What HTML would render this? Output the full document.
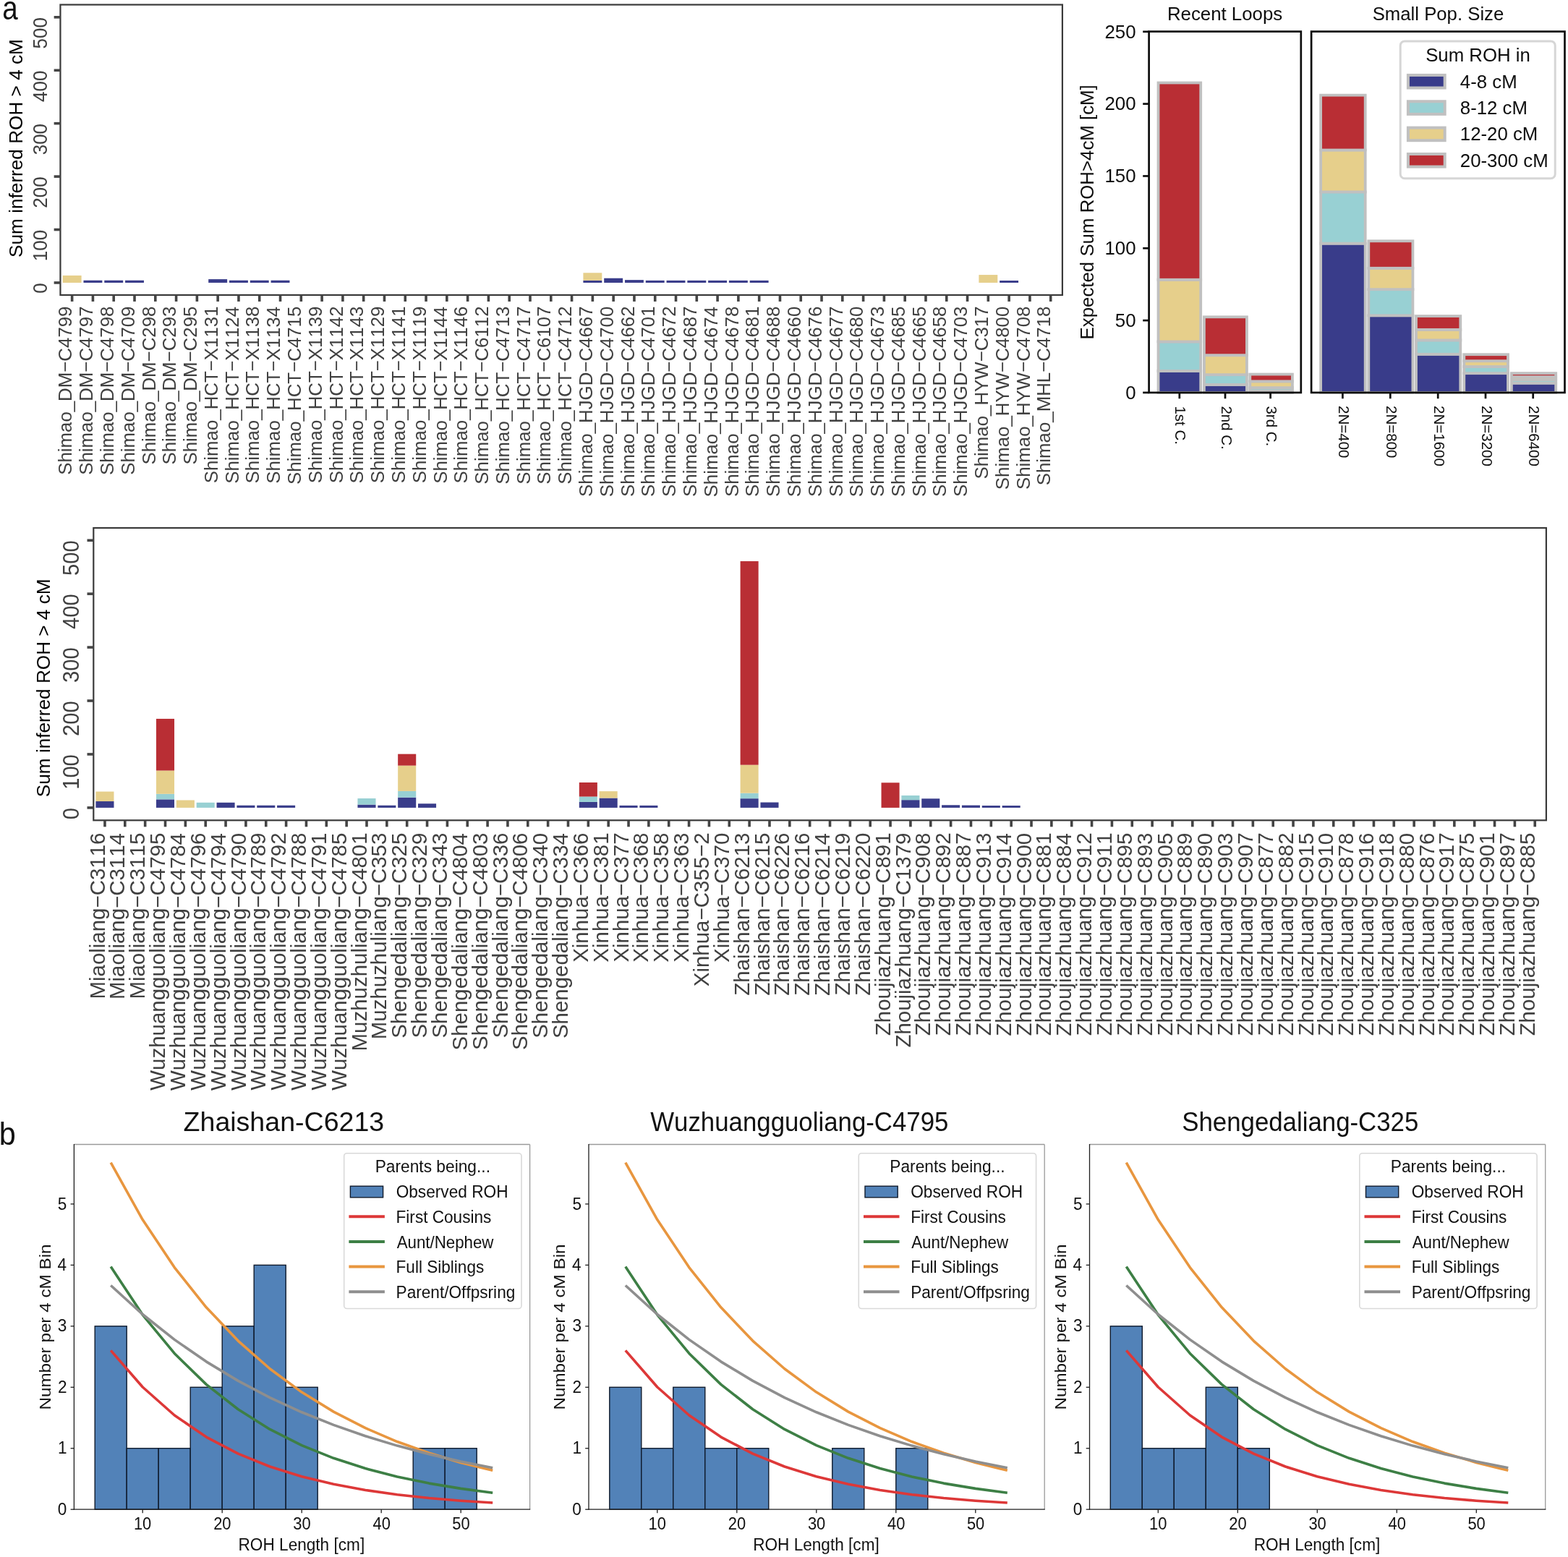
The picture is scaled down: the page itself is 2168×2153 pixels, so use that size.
<!DOCTYPE html><html><head><meta charset="utf-8"><title>ROH figure</title>
<style>html,body{margin:0;padding:0;background:#fff;}svg{display:block;}text{font-family:'Liberation Sans', Arial, Helvetica, sans-serif;font-kerning:none;}</style></head><body>
<svg xmlns="http://www.w3.org/2000/svg" width="2168" height="2153" viewBox="0 0 2168 2153">
<rect x="0" y="0" width="2168" height="2153" fill="#ffffff"/>
<text x="0" y="0" font-size="45.5" fill="#111" text-anchor="start" transform="translate(3.36 27.3) scale(0.8472 1.0000)">a</text>
<text x="0" y="0" font-size="45" fill="#111" text-anchor="start" transform="translate(-1.37 1583) scale(0.9191 1.0000)">b</text>
<rect x="86.69" y="380.96" width="25.91" height="9.99" fill="#e6cf8b"/>
<rect x="115.48" y="387.72" width="25.91" height="3.23" fill="#393c8a"/>
<rect x="144.27" y="387.72" width="25.91" height="3.23" fill="#393c8a"/>
<rect x="173.05" y="387.72" width="25.91" height="3.23" fill="#393c8a"/>
<rect x="288.21" y="386.1" width="25.91" height="4.85" fill="#393c8a"/>
<rect x="317" y="387.72" width="25.91" height="3.23" fill="#393c8a"/>
<rect x="345.79" y="387.72" width="25.91" height="3.23" fill="#393c8a"/>
<rect x="374.57" y="387.72" width="25.91" height="3.23" fill="#393c8a"/>
<rect x="806.4" y="387.87" width="25.91" height="3.08" fill="#393c8a"/>
<rect x="806.4" y="377.29" width="25.91" height="10.57" fill="#e6cf8b"/>
<rect x="835.19" y="384.71" width="25.91" height="6.24" fill="#393c8a"/>
<rect x="863.98" y="387.13" width="25.91" height="3.82" fill="#393c8a"/>
<rect x="892.77" y="387.87" width="25.91" height="3.08" fill="#393c8a"/>
<rect x="921.56" y="387.87" width="25.91" height="3.08" fill="#393c8a"/>
<rect x="950.35" y="387.87" width="25.91" height="3.08" fill="#393c8a"/>
<rect x="979.13" y="387.87" width="25.91" height="3.08" fill="#393c8a"/>
<rect x="1007.92" y="387.87" width="25.91" height="3.08" fill="#393c8a"/>
<rect x="1036.71" y="387.87" width="25.91" height="3.08" fill="#393c8a"/>
<rect x="1353.39" y="380.08" width="25.91" height="10.87" fill="#e6cf8b"/>
<rect x="1382.17" y="388.01" width="25.91" height="2.94" fill="#393c8a"/>
<rect x="83.45" y="6.5" width="1385.45" height="401.45" fill="none" stroke="#3a3a3a" stroke-width="2.2"/>
<line x1="74.65" y1="390.95" x2="83.45" y2="390.95" stroke="#444" stroke-width="3.6"/>
<text x="0" y="0" font-size="26" fill="#404040" text-anchor="start" transform="translate(65.4 405.69) rotate(-90) scale(1.0000 1.0400)">0</text>
<line x1="74.65" y1="317.52" x2="83.45" y2="317.52" stroke="#444" stroke-width="3.6"/>
<text x="0" y="0" font-size="26" fill="#404040" text-anchor="start" transform="translate(65.4 361.18) rotate(-90) scale(1.0000 1.0400)">100</text>
<line x1="74.65" y1="244.09" x2="83.45" y2="244.09" stroke="#444" stroke-width="3.6"/>
<text x="0" y="0" font-size="26" fill="#404040" text-anchor="start" transform="translate(65.4 287.75) rotate(-90) scale(1.0000 1.0400)">200</text>
<line x1="74.65" y1="170.66" x2="83.45" y2="170.66" stroke="#444" stroke-width="3.6"/>
<text x="0" y="0" font-size="26" fill="#404040" text-anchor="start" transform="translate(65.4 214.32) rotate(-90) scale(1.0000 1.0400)">300</text>
<line x1="74.65" y1="97.23" x2="83.45" y2="97.23" stroke="#444" stroke-width="3.6"/>
<text x="0" y="0" font-size="26" fill="#404040" text-anchor="start" transform="translate(65.4 140.89) rotate(-90) scale(1.0000 1.0400)">400</text>
<line x1="74.65" y1="23.8" x2="83.45" y2="23.8" stroke="#444" stroke-width="3.6"/>
<text x="0" y="0" font-size="26" fill="#404040" text-anchor="start" transform="translate(65.4 67.46) rotate(-90) scale(1.0000 1.0400)">500</text>
<line x1="99.64" y1="407.95" x2="99.64" y2="416.95" stroke="#444" stroke-width="3.6"/>
<text x="0" y="0" font-size="26" fill="#404040" text-anchor="start" transform="translate(99.34 656.82) rotate(-90) scale(0.9940 1.0000)">Shimao_DM−C4799</text>
<line x1="128.43" y1="407.95" x2="128.43" y2="416.95" stroke="#444" stroke-width="3.6"/>
<text x="0" y="0" font-size="26" fill="#404040" text-anchor="start" transform="translate(128.13 656.74) rotate(-90) scale(0.9940 1.0000)">Shimao_DM−C4797</text>
<line x1="157.22" y1="407.95" x2="157.22" y2="416.95" stroke="#444" stroke-width="3.6"/>
<text x="0" y="0" font-size="26" fill="#404040" text-anchor="start" transform="translate(156.92 656.92) rotate(-90) scale(0.9940 1.0000)">Shimao_DM−C4798</text>
<line x1="186.01" y1="407.95" x2="186.01" y2="416.95" stroke="#444" stroke-width="3.6"/>
<text x="0" y="0" font-size="26" fill="#404040" text-anchor="start" transform="translate(185.71 656.82) rotate(-90) scale(0.9940 1.0000)">Shimao_DM−C4709</text>
<line x1="214.8" y1="407.95" x2="214.8" y2="416.95" stroke="#444" stroke-width="3.6"/>
<text x="0" y="0" font-size="26" fill="#404040" text-anchor="start" transform="translate(214.5 642.55) rotate(-90) scale(0.9940 1.0000)">Shimao_DM−C298</text>
<line x1="243.59" y1="407.95" x2="243.59" y2="416.95" stroke="#444" stroke-width="3.6"/>
<text x="0" y="0" font-size="26" fill="#404040" text-anchor="start" transform="translate(243.29 642.53) rotate(-90) scale(0.9940 1.0000)">Shimao_DM−C293</text>
<line x1="272.38" y1="407.95" x2="272.38" y2="416.95" stroke="#444" stroke-width="3.6"/>
<text x="0" y="0" font-size="26" fill="#404040" text-anchor="start" transform="translate(272.07 642.58) rotate(-90) scale(0.9940 1.0000)">Shimao_DM−C295</text>
<line x1="301.16" y1="407.95" x2="301.16" y2="416.95" stroke="#444" stroke-width="3.6"/>
<text x="0" y="0" font-size="26" fill="#404040" text-anchor="start" transform="translate(300.86 668.28) rotate(-90) scale(0.9940 1.0000)">Shimao_HCT−X1131</text>
<line x1="329.95" y1="407.95" x2="329.95" y2="416.95" stroke="#444" stroke-width="3.6"/>
<text x="0" y="0" font-size="26" fill="#404040" text-anchor="start" transform="translate(329.65 668.78) rotate(-90) scale(0.9940 1.0000)">Shimao_HCT−X1124</text>
<line x1="358.74" y1="407.95" x2="358.74" y2="416.95" stroke="#444" stroke-width="3.6"/>
<text x="0" y="0" font-size="26" fill="#404040" text-anchor="start" transform="translate(358.44 668.41) rotate(-90) scale(0.9940 1.0000)">Shimao_HCT−X1138</text>
<line x1="387.53" y1="407.95" x2="387.53" y2="416.95" stroke="#444" stroke-width="3.6"/>
<text x="0" y="0" font-size="26" fill="#404040" text-anchor="start" transform="translate(387.23 668.78) rotate(-90) scale(0.9940 1.0000)">Shimao_HCT−X1134</text>
<line x1="416.32" y1="407.95" x2="416.32" y2="416.95" stroke="#444" stroke-width="3.6"/>
<text x="0" y="0" font-size="26" fill="#404040" text-anchor="start" transform="translate(416.02 669.88) rotate(-90) scale(0.9940 1.0000)">Shimao_HCT−C4715</text>
<line x1="445.11" y1="407.95" x2="445.11" y2="416.95" stroke="#444" stroke-width="3.6"/>
<text x="0" y="0" font-size="26" fill="#404040" text-anchor="start" transform="translate(444.81 668.31) rotate(-90) scale(0.9940 1.0000)">Shimao_HCT−X1139</text>
<line x1="473.9" y1="407.95" x2="473.9" y2="416.95" stroke="#444" stroke-width="3.6"/>
<text x="0" y="0" font-size="26" fill="#404040" text-anchor="start" transform="translate(473.6 668.24) rotate(-90) scale(0.9940 1.0000)">Shimao_HCT−X1142</text>
<line x1="502.68" y1="407.95" x2="502.68" y2="416.95" stroke="#444" stroke-width="3.6"/>
<text x="0" y="0" font-size="26" fill="#404040" text-anchor="start" transform="translate(502.38 668.4) rotate(-90) scale(0.9940 1.0000)">Shimao_HCT−X1143</text>
<line x1="531.47" y1="407.95" x2="531.47" y2="416.95" stroke="#444" stroke-width="3.6"/>
<text x="0" y="0" font-size="26" fill="#404040" text-anchor="start" transform="translate(531.17 668.31) rotate(-90) scale(0.9940 1.0000)">Shimao_HCT−X1129</text>
<line x1="560.26" y1="407.95" x2="560.26" y2="416.95" stroke="#444" stroke-width="3.6"/>
<text x="0" y="0" font-size="26" fill="#404040" text-anchor="start" transform="translate(559.96 668.28) rotate(-90) scale(0.9940 1.0000)">Shimao_HCT−X1141</text>
<line x1="589.05" y1="407.95" x2="589.05" y2="416.95" stroke="#444" stroke-width="3.6"/>
<text x="0" y="0" font-size="26" fill="#404040" text-anchor="start" transform="translate(588.75 668.31) rotate(-90) scale(0.9940 1.0000)">Shimao_HCT−X1119</text>
<line x1="617.84" y1="407.95" x2="617.84" y2="416.95" stroke="#444" stroke-width="3.6"/>
<text x="0" y="0" font-size="26" fill="#404040" text-anchor="start" transform="translate(617.54 668.78) rotate(-90) scale(0.9940 1.0000)">Shimao_HCT−X1144</text>
<line x1="646.63" y1="407.95" x2="646.63" y2="416.95" stroke="#444" stroke-width="3.6"/>
<text x="0" y="0" font-size="26" fill="#404040" text-anchor="start" transform="translate(646.33 668.4) rotate(-90) scale(0.9940 1.0000)">Shimao_HCT−X1146</text>
<line x1="675.42" y1="407.95" x2="675.42" y2="416.95" stroke="#444" stroke-width="3.6"/>
<text x="0" y="0" font-size="26" fill="#404040" text-anchor="start" transform="translate(675.12 669.66) rotate(-90) scale(0.9940 1.0000)">Shimao_HCT−C6112</text>
<line x1="704.2" y1="407.95" x2="704.2" y2="416.95" stroke="#444" stroke-width="3.6"/>
<text x="0" y="0" font-size="26" fill="#404040" text-anchor="start" transform="translate(703.9 669.83) rotate(-90) scale(0.9940 1.0000)">Shimao_HCT−C4713</text>
<line x1="732.99" y1="407.95" x2="732.99" y2="416.95" stroke="#444" stroke-width="3.6"/>
<text x="0" y="0" font-size="26" fill="#404040" text-anchor="start" transform="translate(732.69 669.66) rotate(-90) scale(0.9940 1.0000)">Shimao_HCT−C4717</text>
<line x1="761.78" y1="407.95" x2="761.78" y2="416.95" stroke="#444" stroke-width="3.6"/>
<text x="0" y="0" font-size="26" fill="#404040" text-anchor="start" transform="translate(761.48 669.66) rotate(-90) scale(0.9940 1.0000)">Shimao_HCT−C6107</text>
<line x1="790.57" y1="407.95" x2="790.57" y2="416.95" stroke="#444" stroke-width="3.6"/>
<text x="0" y="0" font-size="26" fill="#404040" text-anchor="start" transform="translate(790.27 669.66) rotate(-90) scale(0.9940 1.0000)">Shimao_HCT−C4712</text>
<line x1="819.36" y1="407.95" x2="819.36" y2="416.95" stroke="#444" stroke-width="3.6"/>
<text x="0" y="0" font-size="26" fill="#404040" text-anchor="start" transform="translate(819.06 686.9) rotate(-90) scale(0.9940 1.0000)">Shimao_HJGD−C4667</text>
<line x1="848.15" y1="407.95" x2="848.15" y2="416.95" stroke="#444" stroke-width="3.6"/>
<text x="0" y="0" font-size="26" fill="#404040" text-anchor="start" transform="translate(847.85 687.19) rotate(-90) scale(0.9940 1.0000)">Shimao_HJGD−C4700</text>
<line x1="876.94" y1="407.95" x2="876.94" y2="416.95" stroke="#444" stroke-width="3.6"/>
<text x="0" y="0" font-size="26" fill="#404040" text-anchor="start" transform="translate(876.64 686.9) rotate(-90) scale(0.9940 1.0000)">Shimao_HJGD−C4662</text>
<line x1="905.72" y1="407.95" x2="905.72" y2="416.95" stroke="#444" stroke-width="3.6"/>
<text x="0" y="0" font-size="26" fill="#404040" text-anchor="start" transform="translate(905.42 686.94) rotate(-90) scale(0.9940 1.0000)">Shimao_HJGD−C4701</text>
<line x1="934.51" y1="407.95" x2="934.51" y2="416.95" stroke="#444" stroke-width="3.6"/>
<text x="0" y="0" font-size="26" fill="#404040" text-anchor="start" transform="translate(934.21 686.9) rotate(-90) scale(0.9940 1.0000)">Shimao_HJGD−C4672</text>
<line x1="963.3" y1="407.95" x2="963.3" y2="416.95" stroke="#444" stroke-width="3.6"/>
<text x="0" y="0" font-size="26" fill="#404040" text-anchor="start" transform="translate(963 686.9) rotate(-90) scale(0.9940 1.0000)">Shimao_HJGD−C4687</text>
<line x1="992.09" y1="407.95" x2="992.09" y2="416.95" stroke="#444" stroke-width="3.6"/>
<text x="0" y="0" font-size="26" fill="#404040" text-anchor="start" transform="translate(991.79 687.44) rotate(-90) scale(0.9940 1.0000)">Shimao_HJGD−C4674</text>
<line x1="1020.88" y1="407.95" x2="1020.88" y2="416.95" stroke="#444" stroke-width="3.6"/>
<text x="0" y="0" font-size="26" fill="#404040" text-anchor="start" transform="translate(1020.58 687.08) rotate(-90) scale(0.9940 1.0000)">Shimao_HJGD−C4678</text>
<line x1="1049.67" y1="407.95" x2="1049.67" y2="416.95" stroke="#444" stroke-width="3.6"/>
<text x="0" y="0" font-size="26" fill="#404040" text-anchor="start" transform="translate(1049.37 686.94) rotate(-90) scale(0.9940 1.0000)">Shimao_HJGD−C4681</text>
<line x1="1078.46" y1="407.95" x2="1078.46" y2="416.95" stroke="#444" stroke-width="3.6"/>
<text x="0" y="0" font-size="26" fill="#404040" text-anchor="start" transform="translate(1078.16 687.08) rotate(-90) scale(0.9940 1.0000)">Shimao_HJGD−C4688</text>
<line x1="1107.24" y1="407.95" x2="1107.24" y2="416.95" stroke="#444" stroke-width="3.6"/>
<text x="0" y="0" font-size="26" fill="#404040" text-anchor="start" transform="translate(1106.94 687.19) rotate(-90) scale(0.9940 1.0000)">Shimao_HJGD−C4660</text>
<line x1="1136.03" y1="407.95" x2="1136.03" y2="416.95" stroke="#444" stroke-width="3.6"/>
<text x="0" y="0" font-size="26" fill="#404040" text-anchor="start" transform="translate(1135.73 687.07) rotate(-90) scale(0.9940 1.0000)">Shimao_HJGD−C4676</text>
<line x1="1164.82" y1="407.95" x2="1164.82" y2="416.95" stroke="#444" stroke-width="3.6"/>
<text x="0" y="0" font-size="26" fill="#404040" text-anchor="start" transform="translate(1164.52 686.9) rotate(-90) scale(0.9940 1.0000)">Shimao_HJGD−C4677</text>
<line x1="1193.61" y1="407.95" x2="1193.61" y2="416.95" stroke="#444" stroke-width="3.6"/>
<text x="0" y="0" font-size="26" fill="#404040" text-anchor="start" transform="translate(1193.31 687.19) rotate(-90) scale(0.9940 1.0000)">Shimao_HJGD−C4680</text>
<line x1="1222.4" y1="407.95" x2="1222.4" y2="416.95" stroke="#444" stroke-width="3.6"/>
<text x="0" y="0" font-size="26" fill="#404040" text-anchor="start" transform="translate(1222.1 687.07) rotate(-90) scale(0.9940 1.0000)">Shimao_HJGD−C4673</text>
<line x1="1251.19" y1="407.95" x2="1251.19" y2="416.95" stroke="#444" stroke-width="3.6"/>
<text x="0" y="0" font-size="26" fill="#404040" text-anchor="start" transform="translate(1250.89 687.12) rotate(-90) scale(0.9940 1.0000)">Shimao_HJGD−C4685</text>
<line x1="1279.98" y1="407.95" x2="1279.98" y2="416.95" stroke="#444" stroke-width="3.6"/>
<text x="0" y="0" font-size="26" fill="#404040" text-anchor="start" transform="translate(1279.68 687.12) rotate(-90) scale(0.9940 1.0000)">Shimao_HJGD−C4665</text>
<line x1="1308.76" y1="407.95" x2="1308.76" y2="416.95" stroke="#444" stroke-width="3.6"/>
<text x="0" y="0" font-size="26" fill="#404040" text-anchor="start" transform="translate(1308.46 687.08) rotate(-90) scale(0.9940 1.0000)">Shimao_HJGD−C4658</text>
<line x1="1337.55" y1="407.95" x2="1337.55" y2="416.95" stroke="#444" stroke-width="3.6"/>
<text x="0" y="0" font-size="26" fill="#404040" text-anchor="start" transform="translate(1337.25 687.07) rotate(-90) scale(0.9940 1.0000)">Shimao_HJGD−C4703</text>
<line x1="1366.34" y1="407.95" x2="1366.34" y2="416.95" stroke="#444" stroke-width="3.6"/>
<text x="0" y="0" font-size="26" fill="#404040" text-anchor="start" transform="translate(1366.04 662.47) rotate(-90) scale(0.9940 1.0000)">Shimao_HYW−C317</text>
<line x1="1395.13" y1="407.95" x2="1395.13" y2="416.95" stroke="#444" stroke-width="3.6"/>
<text x="0" y="0" font-size="26" fill="#404040" text-anchor="start" transform="translate(1394.83 677.13) rotate(-90) scale(0.9940 1.0000)">Shimao_HYW−C4800</text>
<line x1="1423.92" y1="407.95" x2="1423.92" y2="416.95" stroke="#444" stroke-width="3.6"/>
<text x="0" y="0" font-size="26" fill="#404040" text-anchor="start" transform="translate(1423.62 677.02) rotate(-90) scale(0.9940 1.0000)">Shimao_HYW−C4708</text>
<line x1="1452.71" y1="407.95" x2="1452.71" y2="416.95" stroke="#444" stroke-width="3.6"/>
<text x="0" y="0" font-size="26" fill="#404040" text-anchor="start" transform="translate(1452.41 671.29) rotate(-90) scale(0.9940 1.0000)">Shimao_MHL−C4718</text>
<text x="0" y="0" font-size="26" fill="#000" text-anchor="start" transform="translate(30.85 355.89) rotate(-90) scale(1.0069 1.0000)">Sum inferred ROH &gt; 4 cM</text>
<rect x="132.43" y="1108.03" width="25.06" height="8.87" fill="#393c8a"/>
<rect x="132.43" y="1094.57" width="25.06" height="13.46" fill="#e6cf8b"/>
<rect x="215.98" y="1105.37" width="25.06" height="11.53" fill="#393c8a"/>
<rect x="215.98" y="1097.82" width="25.06" height="7.54" fill="#98d0d3"/>
<rect x="215.98" y="1065.51" width="25.06" height="32.31" fill="#e6cf8b"/>
<rect x="215.98" y="993.94" width="25.06" height="71.57" fill="#b92e34"/>
<rect x="243.83" y="1106.47" width="25.06" height="10.43" fill="#e6cf8b"/>
<rect x="271.68" y="1109.8" width="25.06" height="7.1" fill="#98d0d3"/>
<rect x="299.53" y="1109.8" width="25.06" height="7.1" fill="#393c8a"/>
<rect x="327.38" y="1113.72" width="25.06" height="3.18" fill="#393c8a"/>
<rect x="355.22" y="1113.72" width="25.06" height="3.18" fill="#393c8a"/>
<rect x="383.07" y="1113.72" width="25.06" height="3.18" fill="#393c8a"/>
<rect x="494.47" y="1112.61" width="25.06" height="4.29" fill="#393c8a"/>
<rect x="494.47" y="1104.03" width="25.06" height="8.58" fill="#98d0d3"/>
<rect x="522.32" y="1113.72" width="25.06" height="3.18" fill="#393c8a"/>
<rect x="550.17" y="1102.7" width="25.06" height="14.2" fill="#393c8a"/>
<rect x="550.17" y="1093.9" width="25.06" height="8.8" fill="#98d0d3"/>
<rect x="550.17" y="1058.64" width="25.06" height="35.27" fill="#e6cf8b"/>
<rect x="550.17" y="1042.66" width="25.06" height="15.97" fill="#b92e34"/>
<rect x="578.01" y="1111.28" width="25.06" height="5.62" fill="#393c8a"/>
<rect x="800.81" y="1108.91" width="25.06" height="7.99" fill="#393c8a"/>
<rect x="800.81" y="1101.52" width="25.06" height="7.39" fill="#98d0d3"/>
<rect x="800.81" y="1082" width="25.06" height="19.52" fill="#b92e34"/>
<rect x="828.65" y="1103.52" width="25.06" height="13.38" fill="#393c8a"/>
<rect x="828.65" y="1094.13" width="25.06" height="9.39" fill="#e6cf8b"/>
<rect x="856.5" y="1113.87" width="25.06" height="3.03" fill="#393c8a"/>
<rect x="884.35" y="1113.87" width="25.06" height="3.03" fill="#393c8a"/>
<rect x="1023.6" y="1104.18" width="25.06" height="12.72" fill="#393c8a"/>
<rect x="1023.6" y="1096.71" width="25.06" height="7.47" fill="#98d0d3"/>
<rect x="1023.6" y="1057.67" width="25.06" height="39.04" fill="#e6cf8b"/>
<rect x="1023.6" y="776.04" width="25.06" height="281.64" fill="#b92e34"/>
<rect x="1051.45" y="1109.51" width="25.06" height="7.39" fill="#393c8a"/>
<rect x="1218.54" y="1082.3" width="25.06" height="34.6" fill="#b92e34"/>
<rect x="1246.39" y="1106.18" width="25.06" height="10.72" fill="#393c8a"/>
<rect x="1246.39" y="1099.97" width="25.06" height="6.21" fill="#98d0d3"/>
<rect x="1274.24" y="1104.33" width="25.06" height="12.57" fill="#393c8a"/>
<rect x="1302.09" y="1113.28" width="25.06" height="3.62" fill="#393c8a"/>
<rect x="1329.93" y="1113.57" width="25.06" height="3.33" fill="#393c8a"/>
<rect x="1357.78" y="1114.02" width="25.06" height="2.88" fill="#393c8a"/>
<rect x="1385.63" y="1114.02" width="25.06" height="2.88" fill="#393c8a"/>
<rect x="129.3" y="730" width="2008.6" height="404.3" fill="none" stroke="#3a3a3a" stroke-width="2.2"/>
<line x1="120.5" y1="1116.9" x2="129.3" y2="1116.9" stroke="#444" stroke-width="3.6"/>
<text x="0" y="0" font-size="29.2" fill="#404040" text-anchor="start" transform="translate(109.2 1133.3) rotate(-90) scale(1.0000 1.0500)">0</text>
<line x1="120.5" y1="1042.96" x2="129.3" y2="1042.96" stroke="#444" stroke-width="3.6"/>
<text x="0" y="0" font-size="29.2" fill="#404040" text-anchor="start" transform="translate(109.2 1091.84) rotate(-90) scale(1.0000 1.0500)">100</text>
<line x1="120.5" y1="969.02" x2="129.3" y2="969.02" stroke="#444" stroke-width="3.6"/>
<text x="0" y="0" font-size="29.2" fill="#404040" text-anchor="start" transform="translate(109.2 1017.9) rotate(-90) scale(1.0000 1.0500)">200</text>
<line x1="120.5" y1="895.08" x2="129.3" y2="895.08" stroke="#444" stroke-width="3.6"/>
<text x="0" y="0" font-size="29.2" fill="#404040" text-anchor="start" transform="translate(109.2 943.96) rotate(-90) scale(1.0000 1.0500)">300</text>
<line x1="120.5" y1="821.14" x2="129.3" y2="821.14" stroke="#444" stroke-width="3.6"/>
<text x="0" y="0" font-size="29.2" fill="#404040" text-anchor="start" transform="translate(109.2 870.02) rotate(-90) scale(1.0000 1.0500)">400</text>
<line x1="120.5" y1="747.2" x2="129.3" y2="747.2" stroke="#444" stroke-width="3.6"/>
<text x="0" y="0" font-size="29.2" fill="#404040" text-anchor="start" transform="translate(109.2 796.08) rotate(-90) scale(1.0000 1.0500)">500</text>
<line x1="144.96" y1="1134.3" x2="144.96" y2="1143.3" stroke="#444" stroke-width="3.6"/>
<text x="0" y="0" font-size="29.45" fill="#404040" text-anchor="start" transform="translate(144.56 1381.54) rotate(-90)">Miaoliang−C3116</text>
<line x1="172.81" y1="1134.3" x2="172.81" y2="1143.3" stroke="#444" stroke-width="3.6"/>
<text x="0" y="0" font-size="29.45" fill="#404040" text-anchor="start" transform="translate(172.41 1381.97) rotate(-90)">Miaoliang−C3114</text>
<line x1="200.66" y1="1134.3" x2="200.66" y2="1143.3" stroke="#444" stroke-width="3.6"/>
<text x="0" y="0" font-size="29.45" fill="#404040" text-anchor="start" transform="translate(200.26 1381.6) rotate(-90)">Miaoliang−C3115</text>
<line x1="228.51" y1="1134.3" x2="228.51" y2="1143.3" stroke="#444" stroke-width="3.6"/>
<text x="0" y="0" font-size="29.45" fill="#404040" text-anchor="start" transform="translate(228.11 1507.7) rotate(-90)">Wuzhuangguoliang−C4795</text>
<line x1="256.36" y1="1134.3" x2="256.36" y2="1143.3" stroke="#444" stroke-width="3.6"/>
<text x="0" y="0" font-size="29.45" fill="#404040" text-anchor="start" transform="translate(255.96 1508.07) rotate(-90)">Wuzhuangguoliang−C4784</text>
<line x1="284.21" y1="1134.3" x2="284.21" y2="1143.3" stroke="#444" stroke-width="3.6"/>
<text x="0" y="0" font-size="29.45" fill="#404040" text-anchor="start" transform="translate(283.81 1507.64) rotate(-90)">Wuzhuangguoliang−C4796</text>
<line x1="312.06" y1="1134.3" x2="312.06" y2="1143.3" stroke="#444" stroke-width="3.6"/>
<text x="0" y="0" font-size="29.45" fill="#404040" text-anchor="start" transform="translate(311.66 1508.07) rotate(-90)">Wuzhuangguoliang−C4794</text>
<line x1="339.91" y1="1134.3" x2="339.91" y2="1143.3" stroke="#444" stroke-width="3.6"/>
<text x="0" y="0" font-size="29.45" fill="#404040" text-anchor="start" transform="translate(339.51 1507.78) rotate(-90)">Wuzhuangguoliang−C4790</text>
<line x1="367.76" y1="1134.3" x2="367.76" y2="1143.3" stroke="#444" stroke-width="3.6"/>
<text x="0" y="0" font-size="29.45" fill="#404040" text-anchor="start" transform="translate(367.36 1507.54) rotate(-90)">Wuzhuangguoliang−C4789</text>
<line x1="395.6" y1="1134.3" x2="395.6" y2="1143.3" stroke="#444" stroke-width="3.6"/>
<text x="0" y="0" font-size="29.45" fill="#404040" text-anchor="start" transform="translate(395.2 1507.45) rotate(-90)">Wuzhuangguoliang−C4792</text>
<line x1="423.45" y1="1134.3" x2="423.45" y2="1143.3" stroke="#444" stroke-width="3.6"/>
<text x="0" y="0" font-size="29.45" fill="#404040" text-anchor="start" transform="translate(423.05 1507.65) rotate(-90)">Wuzhuangguoliang−C4788</text>
<line x1="451.3" y1="1134.3" x2="451.3" y2="1143.3" stroke="#444" stroke-width="3.6"/>
<text x="0" y="0" font-size="29.45" fill="#404040" text-anchor="start" transform="translate(450.9 1507.49) rotate(-90)">Wuzhuangguoliang−C4791</text>
<line x1="479.15" y1="1134.3" x2="479.15" y2="1143.3" stroke="#444" stroke-width="3.6"/>
<text x="0" y="0" font-size="29.45" fill="#404040" text-anchor="start" transform="translate(478.75 1507.7) rotate(-90)">Wuzhuangguoliang−C4785</text>
<line x1="507" y1="1134.3" x2="507" y2="1143.3" stroke="#444" stroke-width="3.6"/>
<text x="0" y="0" font-size="29.45" fill="#404040" text-anchor="start" transform="translate(506.6 1453.44) rotate(-90)">Muzhuzhuliang−C4801</text>
<line x1="534.85" y1="1134.3" x2="534.85" y2="1143.3" stroke="#444" stroke-width="3.6"/>
<text x="0" y="0" font-size="29.45" fill="#404040" text-anchor="start" transform="translate(534.45 1437.21) rotate(-90)">Muzhuzhuliang−C353</text>
<line x1="562.7" y1="1134.3" x2="562.7" y2="1143.3" stroke="#444" stroke-width="3.6"/>
<text x="0" y="0" font-size="29.45" fill="#404040" text-anchor="start" transform="translate(562.3 1435.68) rotate(-90)">Shengedaliang−C325</text>
<line x1="590.55" y1="1134.3" x2="590.55" y2="1143.3" stroke="#444" stroke-width="3.6"/>
<text x="0" y="0" font-size="29.45" fill="#404040" text-anchor="start" transform="translate(590.15 1435.52) rotate(-90)">Shengedaliang−C329</text>
<line x1="618.4" y1="1134.3" x2="618.4" y2="1143.3" stroke="#444" stroke-width="3.6"/>
<text x="0" y="0" font-size="29.45" fill="#404040" text-anchor="start" transform="translate(618 1435.62) rotate(-90)">Shengedaliang−C343</text>
<line x1="646.24" y1="1134.3" x2="646.24" y2="1143.3" stroke="#444" stroke-width="3.6"/>
<text x="0" y="0" font-size="29.45" fill="#404040" text-anchor="start" transform="translate(645.84 1452.43) rotate(-90)">Shengedaliang−C4804</text>
<line x1="674.09" y1="1134.3" x2="674.09" y2="1143.3" stroke="#444" stroke-width="3.6"/>
<text x="0" y="0" font-size="29.45" fill="#404040" text-anchor="start" transform="translate(673.69 1452) rotate(-90)">Shengedaliang−C4803</text>
<line x1="701.94" y1="1134.3" x2="701.94" y2="1143.3" stroke="#444" stroke-width="3.6"/>
<text x="0" y="0" font-size="29.45" fill="#404040" text-anchor="start" transform="translate(701.54 1435.62) rotate(-90)">Shengedaliang−C336</text>
<line x1="729.79" y1="1134.3" x2="729.79" y2="1143.3" stroke="#444" stroke-width="3.6"/>
<text x="0" y="0" font-size="29.45" fill="#404040" text-anchor="start" transform="translate(729.39 1452) rotate(-90)">Shengedaliang−C4806</text>
<line x1="757.64" y1="1134.3" x2="757.64" y2="1143.3" stroke="#444" stroke-width="3.6"/>
<text x="0" y="0" font-size="29.45" fill="#404040" text-anchor="start" transform="translate(757.24 1435.77) rotate(-90)">Shengedaliang−C340</text>
<line x1="785.49" y1="1134.3" x2="785.49" y2="1143.3" stroke="#444" stroke-width="3.6"/>
<text x="0" y="0" font-size="29.45" fill="#404040" text-anchor="start" transform="translate(785.09 1436.05) rotate(-90)">Shengedaliang−C334</text>
<line x1="813.34" y1="1134.3" x2="813.34" y2="1143.3" stroke="#444" stroke-width="3.6"/>
<text x="0" y="0" font-size="29.45" fill="#404040" text-anchor="start" transform="translate(812.94 1330.81) rotate(-90)">Xinhua−C366</text>
<line x1="841.19" y1="1134.3" x2="841.19" y2="1143.3" stroke="#444" stroke-width="3.6"/>
<text x="0" y="0" font-size="29.45" fill="#404040" text-anchor="start" transform="translate(840.79 1330.66) rotate(-90)">Xinhua−C381</text>
<line x1="869.04" y1="1134.3" x2="869.04" y2="1143.3" stroke="#444" stroke-width="3.6"/>
<text x="0" y="0" font-size="29.45" fill="#404040" text-anchor="start" transform="translate(868.64 1330.62) rotate(-90)">Xinhua−C377</text>
<line x1="896.88" y1="1134.3" x2="896.88" y2="1143.3" stroke="#444" stroke-width="3.6"/>
<text x="0" y="0" font-size="29.45" fill="#404040" text-anchor="start" transform="translate(896.48 1330.82) rotate(-90)">Xinhua−C368</text>
<line x1="924.73" y1="1134.3" x2="924.73" y2="1143.3" stroke="#444" stroke-width="3.6"/>
<text x="0" y="0" font-size="29.45" fill="#404040" text-anchor="start" transform="translate(924.33 1330.82) rotate(-90)">Xinhua−C358</text>
<line x1="952.58" y1="1134.3" x2="952.58" y2="1143.3" stroke="#444" stroke-width="3.6"/>
<text x="0" y="0" font-size="29.45" fill="#404040" text-anchor="start" transform="translate(952.18 1330.81) rotate(-90)">Xinhua−C363</text>
<line x1="980.43" y1="1134.3" x2="980.43" y2="1143.3" stroke="#444" stroke-width="3.6"/>
<text x="0" y="0" font-size="29.45" fill="#404040" text-anchor="start" transform="translate(980.03 1364.2) rotate(-90)">Xinhua−C355−2</text>
<line x1="1008.28" y1="1134.3" x2="1008.28" y2="1143.3" stroke="#444" stroke-width="3.6"/>
<text x="0" y="0" font-size="29.45" fill="#404040" text-anchor="start" transform="translate(1007.88 1330.95) rotate(-90)">Xinhua−C370</text>
<line x1="1036.13" y1="1134.3" x2="1036.13" y2="1143.3" stroke="#444" stroke-width="3.6"/>
<text x="0" y="0" font-size="29.45" fill="#404040" text-anchor="start" transform="translate(1035.73 1376.64) rotate(-90)">Zhaishan−C6213</text>
<line x1="1063.98" y1="1134.3" x2="1063.98" y2="1143.3" stroke="#444" stroke-width="3.6"/>
<text x="0" y="0" font-size="29.45" fill="#404040" text-anchor="start" transform="translate(1063.58 1376.69) rotate(-90)">Zhaishan−C6215</text>
<line x1="1091.83" y1="1134.3" x2="1091.83" y2="1143.3" stroke="#444" stroke-width="3.6"/>
<text x="0" y="0" font-size="29.45" fill="#404040" text-anchor="start" transform="translate(1091.43 1376.64) rotate(-90)">Zhaishan−C6226</text>
<line x1="1119.68" y1="1134.3" x2="1119.68" y2="1143.3" stroke="#444" stroke-width="3.6"/>
<text x="0" y="0" font-size="29.45" fill="#404040" text-anchor="start" transform="translate(1119.28 1376.64) rotate(-90)">Zhaishan−C6216</text>
<line x1="1147.52" y1="1134.3" x2="1147.52" y2="1143.3" stroke="#444" stroke-width="3.6"/>
<text x="0" y="0" font-size="29.45" fill="#404040" text-anchor="start" transform="translate(1147.12 1377.07) rotate(-90)">Zhaishan−C6214</text>
<line x1="1175.37" y1="1134.3" x2="1175.37" y2="1143.3" stroke="#444" stroke-width="3.6"/>
<text x="0" y="0" font-size="29.45" fill="#404040" text-anchor="start" transform="translate(1174.97 1376.54) rotate(-90)">Zhaishan−C6219</text>
<line x1="1203.22" y1="1134.3" x2="1203.22" y2="1143.3" stroke="#444" stroke-width="3.6"/>
<text x="0" y="0" font-size="29.45" fill="#404040" text-anchor="start" transform="translate(1202.82 1376.78) rotate(-90)">Zhaishan−C6220</text>
<line x1="1231.07" y1="1134.3" x2="1231.07" y2="1143.3" stroke="#444" stroke-width="3.6"/>
<text x="0" y="0" font-size="29.45" fill="#404040" text-anchor="start" transform="translate(1230.67 1432.17) rotate(-90)">Zhoujiazhuang−C891</text>
<line x1="1258.92" y1="1134.3" x2="1258.92" y2="1143.3" stroke="#444" stroke-width="3.6"/>
<text x="0" y="0" font-size="29.45" fill="#404040" text-anchor="start" transform="translate(1258.52 1448.59) rotate(-90)">Zhoujiazhuang−C1379</text>
<line x1="1286.77" y1="1134.3" x2="1286.77" y2="1143.3" stroke="#444" stroke-width="3.6"/>
<text x="0" y="0" font-size="29.45" fill="#404040" text-anchor="start" transform="translate(1286.37 1432.33) rotate(-90)">Zhoujiazhuang−C908</text>
<line x1="1314.62" y1="1134.3" x2="1314.62" y2="1143.3" stroke="#444" stroke-width="3.6"/>
<text x="0" y="0" font-size="29.45" fill="#404040" text-anchor="start" transform="translate(1314.22 1432.13) rotate(-90)">Zhoujiazhuang−C892</text>
<line x1="1342.47" y1="1134.3" x2="1342.47" y2="1143.3" stroke="#444" stroke-width="3.6"/>
<text x="0" y="0" font-size="29.45" fill="#404040" text-anchor="start" transform="translate(1342.07 1432.13) rotate(-90)">Zhoujiazhuang−C887</text>
<line x1="1370.32" y1="1134.3" x2="1370.32" y2="1143.3" stroke="#444" stroke-width="3.6"/>
<text x="0" y="0" font-size="29.45" fill="#404040" text-anchor="start" transform="translate(1369.92 1432.32) rotate(-90)">Zhoujiazhuang−C913</text>
<line x1="1398.16" y1="1134.3" x2="1398.16" y2="1143.3" stroke="#444" stroke-width="3.6"/>
<text x="0" y="0" font-size="29.45" fill="#404040" text-anchor="start" transform="translate(1397.76 1432.75) rotate(-90)">Zhoujiazhuang−C914</text>
<line x1="1426.01" y1="1134.3" x2="1426.01" y2="1143.3" stroke="#444" stroke-width="3.6"/>
<text x="0" y="0" font-size="29.45" fill="#404040" text-anchor="start" transform="translate(1425.61 1432.46) rotate(-90)">Zhoujiazhuang−C900</text>
<line x1="1453.86" y1="1134.3" x2="1453.86" y2="1143.3" stroke="#444" stroke-width="3.6"/>
<text x="0" y="0" font-size="29.45" fill="#404040" text-anchor="start" transform="translate(1453.46 1432.17) rotate(-90)">Zhoujiazhuang−C881</text>
<line x1="1481.71" y1="1134.3" x2="1481.71" y2="1143.3" stroke="#444" stroke-width="3.6"/>
<text x="0" y="0" font-size="29.45" fill="#404040" text-anchor="start" transform="translate(1481.31 1432.75) rotate(-90)">Zhoujiazhuang−C884</text>
<line x1="1509.56" y1="1134.3" x2="1509.56" y2="1143.3" stroke="#444" stroke-width="3.6"/>
<text x="0" y="0" font-size="29.45" fill="#404040" text-anchor="start" transform="translate(1509.16 1432.13) rotate(-90)">Zhoujiazhuang−C912</text>
<line x1="1537.41" y1="1134.3" x2="1537.41" y2="1143.3" stroke="#444" stroke-width="3.6"/>
<text x="0" y="0" font-size="29.45" fill="#404040" text-anchor="start" transform="translate(1537.01 1432.17) rotate(-90)">Zhoujiazhuang−C911</text>
<line x1="1565.26" y1="1134.3" x2="1565.26" y2="1143.3" stroke="#444" stroke-width="3.6"/>
<text x="0" y="0" font-size="29.45" fill="#404040" text-anchor="start" transform="translate(1564.86 1432.37) rotate(-90)">Zhoujiazhuang−C895</text>
<line x1="1593.11" y1="1134.3" x2="1593.11" y2="1143.3" stroke="#444" stroke-width="3.6"/>
<text x="0" y="0" font-size="29.45" fill="#404040" text-anchor="start" transform="translate(1592.71 1432.32) rotate(-90)">Zhoujiazhuang−C893</text>
<line x1="1620.96" y1="1134.3" x2="1620.96" y2="1143.3" stroke="#444" stroke-width="3.6"/>
<text x="0" y="0" font-size="29.45" fill="#404040" text-anchor="start" transform="translate(1620.56 1432.37) rotate(-90)">Zhoujiazhuang−C905</text>
<line x1="1648.8" y1="1134.3" x2="1648.8" y2="1143.3" stroke="#444" stroke-width="3.6"/>
<text x="0" y="0" font-size="29.45" fill="#404040" text-anchor="start" transform="translate(1648.4 1432.22) rotate(-90)">Zhoujiazhuang−C889</text>
<line x1="1676.65" y1="1134.3" x2="1676.65" y2="1143.3" stroke="#444" stroke-width="3.6"/>
<text x="0" y="0" font-size="29.45" fill="#404040" text-anchor="start" transform="translate(1676.25 1432.46) rotate(-90)">Zhoujiazhuang−C890</text>
<line x1="1704.5" y1="1134.3" x2="1704.5" y2="1143.3" stroke="#444" stroke-width="3.6"/>
<text x="0" y="0" font-size="29.45" fill="#404040" text-anchor="start" transform="translate(1704.1 1432.32) rotate(-90)">Zhoujiazhuang−C903</text>
<line x1="1732.35" y1="1134.3" x2="1732.35" y2="1143.3" stroke="#444" stroke-width="3.6"/>
<text x="0" y="0" font-size="29.45" fill="#404040" text-anchor="start" transform="translate(1731.95 1432.13) rotate(-90)">Zhoujiazhuang−C907</text>
<line x1="1760.2" y1="1134.3" x2="1760.2" y2="1143.3" stroke="#444" stroke-width="3.6"/>
<text x="0" y="0" font-size="29.45" fill="#404040" text-anchor="start" transform="translate(1759.8 1432.13) rotate(-90)">Zhoujiazhuang−C877</text>
<line x1="1788.05" y1="1134.3" x2="1788.05" y2="1143.3" stroke="#444" stroke-width="3.6"/>
<text x="0" y="0" font-size="29.45" fill="#404040" text-anchor="start" transform="translate(1787.65 1432.13) rotate(-90)">Zhoujiazhuang−C882</text>
<line x1="1815.9" y1="1134.3" x2="1815.9" y2="1143.3" stroke="#444" stroke-width="3.6"/>
<text x="0" y="0" font-size="29.45" fill="#404040" text-anchor="start" transform="translate(1815.5 1432.37) rotate(-90)">Zhoujiazhuang−C915</text>
<line x1="1843.75" y1="1134.3" x2="1843.75" y2="1143.3" stroke="#444" stroke-width="3.6"/>
<text x="0" y="0" font-size="29.45" fill="#404040" text-anchor="start" transform="translate(1843.35 1432.46) rotate(-90)">Zhoujiazhuang−C910</text>
<line x1="1871.6" y1="1134.3" x2="1871.6" y2="1143.3" stroke="#444" stroke-width="3.6"/>
<text x="0" y="0" font-size="29.45" fill="#404040" text-anchor="start" transform="translate(1871.2 1432.33) rotate(-90)">Zhoujiazhuang−C878</text>
<line x1="1899.44" y1="1134.3" x2="1899.44" y2="1143.3" stroke="#444" stroke-width="3.6"/>
<text x="0" y="0" font-size="29.45" fill="#404040" text-anchor="start" transform="translate(1899.04 1432.32) rotate(-90)">Zhoujiazhuang−C916</text>
<line x1="1927.29" y1="1134.3" x2="1927.29" y2="1143.3" stroke="#444" stroke-width="3.6"/>
<text x="0" y="0" font-size="29.45" fill="#404040" text-anchor="start" transform="translate(1926.89 1432.33) rotate(-90)">Zhoujiazhuang−C918</text>
<line x1="1955.14" y1="1134.3" x2="1955.14" y2="1143.3" stroke="#444" stroke-width="3.6"/>
<text x="0" y="0" font-size="29.45" fill="#404040" text-anchor="start" transform="translate(1954.74 1432.46) rotate(-90)">Zhoujiazhuang−C880</text>
<line x1="1982.99" y1="1134.3" x2="1982.99" y2="1143.3" stroke="#444" stroke-width="3.6"/>
<text x="0" y="0" font-size="29.45" fill="#404040" text-anchor="start" transform="translate(1982.59 1432.32) rotate(-90)">Zhoujiazhuang−C876</text>
<line x1="2010.84" y1="1134.3" x2="2010.84" y2="1143.3" stroke="#444" stroke-width="3.6"/>
<text x="0" y="0" font-size="29.45" fill="#404040" text-anchor="start" transform="translate(2010.44 1432.13) rotate(-90)">Zhoujiazhuang−C917</text>
<line x1="2038.69" y1="1134.3" x2="2038.69" y2="1143.3" stroke="#444" stroke-width="3.6"/>
<text x="0" y="0" font-size="29.45" fill="#404040" text-anchor="start" transform="translate(2038.29 1432.37) rotate(-90)">Zhoujiazhuang−C875</text>
<line x1="2066.54" y1="1134.3" x2="2066.54" y2="1143.3" stroke="#444" stroke-width="3.6"/>
<text x="0" y="0" font-size="29.45" fill="#404040" text-anchor="start" transform="translate(2066.14 1432.17) rotate(-90)">Zhoujiazhuang−C901</text>
<line x1="2094.39" y1="1134.3" x2="2094.39" y2="1143.3" stroke="#444" stroke-width="3.6"/>
<text x="0" y="0" font-size="29.45" fill="#404040" text-anchor="start" transform="translate(2093.99 1432.13) rotate(-90)">Zhoujiazhuang−C897</text>
<line x1="2122.24" y1="1134.3" x2="2122.24" y2="1143.3" stroke="#444" stroke-width="3.6"/>
<text x="0" y="0" font-size="29.45" fill="#404040" text-anchor="start" transform="translate(2121.84 1432.37) rotate(-90)">Zhoujiazhuang−C885</text>
<text x="0" y="0" font-size="26" fill="#000" text-anchor="start" transform="translate(68.8 1102.19) rotate(-90) scale(1.0071 1.0000)">Sum inferred ROH &gt; 4 cM</text>
<rect x="1601.5" y="512.95" width="58.7" height="29.95" fill="#393c8a" stroke="#c0c0c0" stroke-width="3.8"/>
<rect x="1601.5" y="472.43" width="58.7" height="40.53" fill="#98d0d3" stroke="#c0c0c0" stroke-width="3.8"/>
<rect x="1601.5" y="386.78" width="58.7" height="85.65" fill="#e6cf8b" stroke="#c0c0c0" stroke-width="3.8"/>
<rect x="1601.5" y="114.47" width="58.7" height="272.31" fill="#b92e34" stroke="#c0c0c0" stroke-width="3.8"/>
<rect x="1664.9" y="531.92" width="59" height="10.98" fill="#393c8a" stroke="#c0c0c0" stroke-width="3.8"/>
<rect x="1664.9" y="518.14" width="59" height="13.78" fill="#98d0d3" stroke="#c0c0c0" stroke-width="3.8"/>
<rect x="1664.9" y="491.19" width="59" height="26.95" fill="#e6cf8b" stroke="#c0c0c0" stroke-width="3.8"/>
<rect x="1664.9" y="438.29" width="59" height="52.9" fill="#b92e34" stroke="#c0c0c0" stroke-width="3.8"/>
<rect x="1728.3" y="540.5" width="58.6" height="2.4" fill="#393c8a" stroke="#c0c0c0" stroke-width="3.8"/>
<rect x="1728.3" y="536.11" width="58.6" height="4.39" fill="#98d0d3" stroke="#c0c0c0" stroke-width="3.8"/>
<rect x="1728.3" y="527.33" width="58.6" height="8.78" fill="#e6cf8b" stroke="#c0c0c0" stroke-width="3.8"/>
<rect x="1728.3" y="517.55" width="58.6" height="9.78" fill="#b92e34" stroke="#c0c0c0" stroke-width="3.8"/>
<rect x="1826.1" y="336.67" width="61.6" height="206.23" fill="#393c8a" stroke="#c0c0c0" stroke-width="3.8"/>
<rect x="1826.1" y="265.4" width="61.6" height="71.27" fill="#98d0d3" stroke="#c0c0c0" stroke-width="3.8"/>
<rect x="1826.1" y="207.5" width="61.6" height="57.9" fill="#e6cf8b" stroke="#c0c0c0" stroke-width="3.8"/>
<rect x="1826.1" y="131.64" width="61.6" height="75.86" fill="#b92e34" stroke="#c0c0c0" stroke-width="3.8"/>
<rect x="1892.3" y="436.29" width="61.1" height="106.61" fill="#393c8a" stroke="#c0c0c0" stroke-width="3.8"/>
<rect x="1892.3" y="400.16" width="61.1" height="36.13" fill="#98d0d3" stroke="#c0c0c0" stroke-width="3.8"/>
<rect x="1892.3" y="370.81" width="61.1" height="29.35" fill="#e6cf8b" stroke="#c0c0c0" stroke-width="3.8"/>
<rect x="1892.3" y="333.28" width="61.1" height="37.53" fill="#b92e34" stroke="#c0c0c0" stroke-width="3.8"/>
<rect x="1958" y="489.8" width="61.3" height="53.1" fill="#393c8a" stroke="#c0c0c0" stroke-width="3.8"/>
<rect x="1958" y="470.43" width="61.3" height="19.37" fill="#98d0d3" stroke="#c0c0c0" stroke-width="3.8"/>
<rect x="1958" y="455.86" width="61.3" height="14.57" fill="#e6cf8b" stroke="#c0c0c0" stroke-width="3.8"/>
<rect x="1958" y="437.09" width="61.3" height="18.77" fill="#b92e34" stroke="#c0c0c0" stroke-width="3.8"/>
<rect x="2024.3" y="516.15" width="60.7" height="26.75" fill="#393c8a" stroke="#c0c0c0" stroke-width="3.8"/>
<rect x="2024.3" y="506.96" width="60.7" height="9.18" fill="#98d0d3" stroke="#c0c0c0" stroke-width="3.8"/>
<rect x="2024.3" y="499.18" width="60.7" height="7.79" fill="#e6cf8b" stroke="#c0c0c0" stroke-width="3.8"/>
<rect x="2024.3" y="490.2" width="60.7" height="8.98" fill="#b92e34" stroke="#c0c0c0" stroke-width="3.8"/>
<rect x="2089.9" y="529.72" width="61.3" height="13.18" fill="#393c8a" stroke="#c0c0c0" stroke-width="3.8"/>
<rect x="2089.9" y="525.13" width="61.3" height="4.59" fill="#98d0d3" stroke="#c0c0c0" stroke-width="3.8"/>
<rect x="2089.9" y="521.14" width="61.3" height="3.99" fill="#e6cf8b" stroke="#c0c0c0" stroke-width="3.8"/>
<rect x="2089.9" y="516.15" width="61.3" height="4.99" fill="#b92e34" stroke="#c0c0c0" stroke-width="3.8"/>
<rect x="1588.6" y="43.6" width="210.2" height="499.3" fill="none" stroke="#0d0d0d" stroke-width="2.7"/>
<rect x="1813.1" y="43.6" width="350.4" height="499.3" fill="none" stroke="#0d0d0d" stroke-width="2.7"/>
<line x1="1580.2" y1="542.9" x2="1588.6" y2="542.9" stroke="#0d0d0d" stroke-width="2.7"/>
<text x="0" y="0" font-size="25.8" fill="#0d0d0d" text-anchor="start" transform="translate(1556.16 551.6)">0</text>
<line x1="1580.2" y1="443.08" x2="1588.6" y2="443.08" stroke="#0d0d0d" stroke-width="2.7"/>
<text x="0" y="0" font-size="25.8" fill="#0d0d0d" text-anchor="start" transform="translate(1541.81 451.78)">50</text>
<line x1="1580.2" y1="343.26" x2="1588.6" y2="343.26" stroke="#0d0d0d" stroke-width="2.7"/>
<text x="0" y="0" font-size="25.8" fill="#0d0d0d" text-anchor="start" transform="translate(1527.46 351.96)">100</text>
<line x1="1580.2" y1="243.44" x2="1588.6" y2="243.44" stroke="#0d0d0d" stroke-width="2.7"/>
<text x="0" y="0" font-size="25.8" fill="#0d0d0d" text-anchor="start" transform="translate(1527.46 252.14)">150</text>
<line x1="1580.2" y1="143.62" x2="1588.6" y2="143.62" stroke="#0d0d0d" stroke-width="2.7"/>
<text x="0" y="0" font-size="25.8" fill="#0d0d0d" text-anchor="start" transform="translate(1527.46 152.32)">200</text>
<line x1="1580.2" y1="43.8" x2="1588.6" y2="43.8" stroke="#0d0d0d" stroke-width="2.7"/>
<text x="0" y="0" font-size="25.8" fill="#0d0d0d" text-anchor="start" transform="translate(1527.46 52.5)">250</text>
<line x1="1630.8" y1="542.9" x2="1630.8" y2="551.2" stroke="#0d0d0d" stroke-width="2.7"/>
<line x1="1694" y1="542.9" x2="1694" y2="551.2" stroke="#0d0d0d" stroke-width="2.7"/>
<line x1="1756.6" y1="542.9" x2="1756.6" y2="551.2" stroke="#0d0d0d" stroke-width="2.7"/>
<line x1="1856.4" y1="542.9" x2="1856.4" y2="551.2" stroke="#0d0d0d" stroke-width="2.7"/>
<line x1="1922.3" y1="542.9" x2="1922.3" y2="551.2" stroke="#0d0d0d" stroke-width="2.7"/>
<line x1="1988.2" y1="542.9" x2="1988.2" y2="551.2" stroke="#0d0d0d" stroke-width="2.7"/>
<line x1="2054" y1="542.9" x2="2054" y2="551.2" stroke="#0d0d0d" stroke-width="2.7"/>
<line x1="2119.7" y1="542.9" x2="2119.7" y2="551.2" stroke="#0d0d0d" stroke-width="2.7"/>
<text x="0" y="0" font-size="20.5" fill="#0d0d0d" text-anchor="start" transform="translate(1625.4 561.4) rotate(90)">1st C.</text>
<text x="0" y="0" font-size="20.5" fill="#0d0d0d" text-anchor="start" transform="translate(1688.6 561.4) rotate(90)">2nd C.</text>
<text x="0" y="0" font-size="20.5" fill="#0d0d0d" text-anchor="start" transform="translate(1751.2 561.4) rotate(90)">3rd C.</text>
<text x="0" y="0" font-size="20.5" fill="#0d0d0d" text-anchor="start" transform="translate(1851 561.1) rotate(90)">2N=400</text>
<text x="0" y="0" font-size="20.5" fill="#0d0d0d" text-anchor="start" transform="translate(1916.9 561.1) rotate(90)">2N=800</text>
<text x="0" y="0" font-size="20.5" fill="#0d0d0d" text-anchor="start" transform="translate(1982.8 561.1) rotate(90)">2N=1600</text>
<text x="0" y="0" font-size="20.5" fill="#0d0d0d" text-anchor="start" transform="translate(2048.6 561.1) rotate(90)">2N=3200</text>
<text x="0" y="0" font-size="20.5" fill="#0d0d0d" text-anchor="start" transform="translate(2114.3 561.1) rotate(90)">2N=6400</text>
<text x="0" y="0" font-size="25.8" fill="#0d0d0d" text-anchor="start" transform="translate(1613.88 27.95) scale(1.0015 1.0000)">Recent Loops</text>
<text x="0" y="0" font-size="25.8" fill="#0d0d0d" text-anchor="start" transform="translate(1897.63 27.9) scale(0.9978 1.0000)">Small Pop. Size</text>
<text x="0" y="0" font-size="25.8" fill="#0d0d0d" text-anchor="start" transform="translate(1511.7 469.42) rotate(-90) scale(1.0013 1.0000)">Expected Sum ROH&gt;4cM [cM]</text>
<rect x="1936.2" y="56.9" width="214" height="189.9" rx="6" ry="6" fill="#ffffff" stroke="#d6d6d6" stroke-width="3"/>
<text x="0" y="0" font-size="25.8" fill="#0d0d0d" text-anchor="start" transform="translate(1971.13 85.3) scale(1.0003 1.0000)">Sum ROH in</text>
<rect x="1946.9" y="103.9" width="50.8" height="17.6" fill="#393c8a" stroke="#c0c0c0" stroke-width="4"/>
<text x="0" y="0" font-size="25.8" fill="#0d0d0d" text-anchor="start" transform="translate(2018.8 121.6)">4-8 cM</text>
<rect x="1946.9" y="140.25" width="50.8" height="17.6" fill="#98d0d3" stroke="#c0c0c0" stroke-width="4"/>
<text x="0" y="0" font-size="25.8" fill="#0d0d0d" text-anchor="start" transform="translate(2018.8 157.95)">8-12 cM</text>
<rect x="1946.9" y="176.6" width="50.8" height="17.6" fill="#e6cf8b" stroke="#c0c0c0" stroke-width="4"/>
<text x="0" y="0" font-size="25.8" fill="#0d0d0d" text-anchor="start" transform="translate(2018.8 194.3)">12-20 cM</text>
<rect x="1946.9" y="212.95" width="50.8" height="17.6" fill="#b92e34" stroke="#c0c0c0" stroke-width="4"/>
<text x="0" y="0" font-size="25.8" fill="#0d0d0d" text-anchor="start" transform="translate(2018.8 230.65)">20-300 cM</text>
<rect x="131.2" y="1833.82" width="44" height="253.38" fill="#5282b8" stroke="#0f1a2c" stroke-width="1.4"/>
<rect x="175.2" y="2002.74" width="44" height="84.46" fill="#5282b8" stroke="#0f1a2c" stroke-width="1.4"/>
<rect x="219.2" y="2002.74" width="44" height="84.46" fill="#5282b8" stroke="#0f1a2c" stroke-width="1.4"/>
<rect x="263.2" y="1918.28" width="44" height="168.92" fill="#5282b8" stroke="#0f1a2c" stroke-width="1.4"/>
<rect x="307.2" y="1833.82" width="44" height="253.38" fill="#5282b8" stroke="#0f1a2c" stroke-width="1.4"/>
<rect x="351.2" y="1749.36" width="44" height="337.84" fill="#5282b8" stroke="#0f1a2c" stroke-width="1.4"/>
<rect x="395.2" y="1918.28" width="44" height="168.92" fill="#5282b8" stroke="#0f1a2c" stroke-width="1.4"/>
<rect x="571.2" y="2002.74" width="44" height="84.46" fill="#5282b8" stroke="#0f1a2c" stroke-width="1.4"/>
<rect x="615.2" y="2002.74" width="44" height="84.46" fill="#5282b8" stroke="#0f1a2c" stroke-width="1.4"/>
<polyline points="153.2,1867.42 197.2,1917.99 241.2,1956.98 285.2,1987.04 329.2,2010.2 373.2,2028.03 417.2,2041.76 461.2,2052.33 505.2,2060.45 549.2,2066.7 593.2,2071.5 637.2,2075.18 681.2,2078.01" fill="none" stroke="#dd3838" stroke-width="3.6" stroke-linejoin="round"/>
<polyline points="153.2,1751.61 197.2,1818.08 241.2,1871.47 285.2,1914.36 329.2,1948.78 373.2,1976.4 417.2,1998.56 461.2,2016.32 505.2,2030.56 549.2,2041.97 593.2,2051.1 637.2,2058.4 681.2,2064.25" fill="none" stroke="#3d7f45" stroke-width="3.6" stroke-linejoin="round"/>
<polyline points="153.2,1607.69 197.2,1686.56 241.2,1752.59 285.2,1807.85 329.2,1854.09 373.2,1892.76 417.2,1925.09 461.2,1952.11 505.2,1974.69 549.2,1993.54 593.2,2009.28 637.2,2022.41 681.2,2033.36" fill="none" stroke="#e8963f" stroke-width="3.6" stroke-linejoin="round"/>
<polyline points="153.2,1777.52 197.2,1817.49 241.2,1852.39 285.2,1882.84 329.2,1909.4 373.2,1932.58 417.2,1952.78 461.2,1970.39 505.2,1985.74 549.2,1999.11 593.2,2010.75 637.2,2020.89 681.2,2029.71" fill="none" stroke="#8e8e8e" stroke-width="3.6" stroke-linejoin="round"/>
<line x1="102.4" y1="1582.5" x2="732.6" y2="1582.5" stroke="#9a9a9a" stroke-width="1.3"/>
<line x1="732.6" y1="1582.5" x2="732.6" y2="2087.2" stroke="#9a9a9a" stroke-width="1.3"/>
<line x1="102.4" y1="1581.9" x2="102.4" y2="2087.8" stroke="#1e1e1e" stroke-width="1.3"/>
<line x1="101.8" y1="2087.2" x2="733.2" y2="2087.2" stroke="#1e1e1e" stroke-width="1.3"/>
<line x1="97.6" y1="2087.2" x2="102.4" y2="2087.2" stroke="#1e1e1e" stroke-width="1.3"/>
<text x="0" y="0" font-size="22.6" fill="#111" text-anchor="start" transform="translate(79.71 2094.8) scale(1.0000 1.0600)">0</text>
<line x1="97.6" y1="2002.74" x2="102.4" y2="2002.74" stroke="#1e1e1e" stroke-width="1.3"/>
<text x="0" y="0" font-size="22.6" fill="#111" text-anchor="start" transform="translate(79.93 2010.34) scale(1.0000 1.0600)">1</text>
<line x1="97.6" y1="1918.28" x2="102.4" y2="1918.28" stroke="#1e1e1e" stroke-width="1.3"/>
<text x="0" y="0" font-size="22.6" fill="#111" text-anchor="start" transform="translate(79.97 1925.88) scale(1.0000 1.0600)">2</text>
<line x1="97.6" y1="1833.82" x2="102.4" y2="1833.82" stroke="#1e1e1e" stroke-width="1.3"/>
<text x="0" y="0" font-size="22.6" fill="#111" text-anchor="start" transform="translate(79.82 1841.42) scale(1.0000 1.0600)">3</text>
<line x1="97.6" y1="1749.36" x2="102.4" y2="1749.36" stroke="#1e1e1e" stroke-width="1.3"/>
<text x="0" y="0" font-size="22.6" fill="#111" text-anchor="start" transform="translate(79.49 1756.96) scale(1.0000 1.0600)">4</text>
<line x1="97.6" y1="1664.9" x2="102.4" y2="1664.9" stroke="#1e1e1e" stroke-width="1.3"/>
<text x="0" y="0" font-size="22.6" fill="#111" text-anchor="start" transform="translate(79.78 1672.5) scale(1.0000 1.0600)">5</text>
<line x1="197.2" y1="2087.2" x2="197.2" y2="2092.2" stroke="#1e1e1e" stroke-width="1.3"/>
<text x="0" y="0" font-size="22.6" fill="#111" text-anchor="start" transform="translate(184.9 2114.9) scale(0.9700 1.0600)">10</text>
<line x1="307.2" y1="2087.2" x2="307.2" y2="2092.2" stroke="#1e1e1e" stroke-width="1.3"/>
<text x="0" y="0" font-size="22.6" fill="#111" text-anchor="start" transform="translate(295.18 2114.9) scale(0.9700 1.0600)">20</text>
<line x1="417.2" y1="2087.2" x2="417.2" y2="2092.2" stroke="#1e1e1e" stroke-width="1.3"/>
<text x="0" y="0" font-size="22.6" fill="#111" text-anchor="start" transform="translate(405.32 2114.9) scale(0.9700 1.0600)">30</text>
<line x1="527.2" y1="2087.2" x2="527.2" y2="2092.2" stroke="#1e1e1e" stroke-width="1.3"/>
<text x="0" y="0" font-size="22.6" fill="#111" text-anchor="start" transform="translate(515.48 2114.9) scale(0.9700 1.0600)">40</text>
<line x1="637.2" y1="2087.2" x2="637.2" y2="2092.2" stroke="#1e1e1e" stroke-width="1.3"/>
<text x="0" y="0" font-size="22.6" fill="#111" text-anchor="start" transform="translate(625.3 2114.9) scale(0.9700 1.0600)">50</text>
<text x="0" y="0" font-size="22.6" fill="#111" text-anchor="start" transform="translate(329.54 2143.8) scale(1.0010 1.0600)">ROH Length [cm]</text>
<text x="0" y="0" font-size="22.6" fill="#111" text-anchor="start" transform="translate(69.6 1949.59) rotate(-90) scale(1.0733 1.0000)">Number per 4 cM Bin</text>
<text x="0" y="0" font-size="37.5" fill="#111" text-anchor="start" transform="translate(253.56 1564.1) scale(1.0016 1.0000)">Zhaishan-C6213</text>
<rect x="475.7" y="1594.7" width="245.3" height="214.8" rx="4" ry="4" fill="#ffffff" fill-opacity="0.85" stroke="#d9d9d9" stroke-width="1.6"/>
<text x="0" y="0" font-size="22.6" fill="#111" text-anchor="start" transform="translate(518.63 1621.3) scale(1.0066 1.0600)">Parents being...</text>
<rect x="484.4" y="1640.2" width="45.2" height="15.6" fill="#5282b8" stroke="#0f1a2c" stroke-width="1.4"/>
<text x="0" y="0" font-size="22.6" fill="#111" text-anchor="start" transform="translate(547.63 1656) scale(1.0035 1.0600)">Observed ROH</text>
<line x1="482.4" y1="1682.2" x2="531.9" y2="1682.2" stroke="#dd3838" stroke-width="4"/>
<text x="0" y="0" font-size="22.6" fill="#111" text-anchor="start" transform="translate(547.55 1690.75) scale(1.0001 1.0600)">First Cousins</text>
<line x1="482.4" y1="1716.9" x2="531.9" y2="1716.9" stroke="#3d7f45" stroke-width="4"/>
<text x="0" y="0" font-size="22.6" fill="#111" text-anchor="start" transform="translate(548.66 1725.5) scale(0.9867 1.0600)">Aunt/Nephew</text>
<line x1="482.4" y1="1751.6" x2="531.9" y2="1751.6" stroke="#e8963f" stroke-width="4"/>
<text x="0" y="0" font-size="22.6" fill="#111" text-anchor="start" transform="translate(547.55 1760.25) scale(0.9994 1.0600)">Full Siblings</text>
<line x1="482.4" y1="1786.3" x2="531.9" y2="1786.3" stroke="#8e8e8e" stroke-width="4"/>
<text x="0" y="0" font-size="22.6" fill="#111" text-anchor="start" transform="translate(547.54 1795) scale(1.0016 1.0600)">Parent/Offpsring</text>
<rect x="842.8" y="1918.28" width="44" height="168.92" fill="#5282b8" stroke="#0f1a2c" stroke-width="1.4"/>
<rect x="886.8" y="2002.74" width="44" height="84.46" fill="#5282b8" stroke="#0f1a2c" stroke-width="1.4"/>
<rect x="930.8" y="1918.28" width="44" height="168.92" fill="#5282b8" stroke="#0f1a2c" stroke-width="1.4"/>
<rect x="974.8" y="2002.74" width="44" height="84.46" fill="#5282b8" stroke="#0f1a2c" stroke-width="1.4"/>
<rect x="1018.8" y="2002.74" width="44" height="84.46" fill="#5282b8" stroke="#0f1a2c" stroke-width="1.4"/>
<rect x="1150.8" y="2002.74" width="44" height="84.46" fill="#5282b8" stroke="#0f1a2c" stroke-width="1.4"/>
<rect x="1238.8" y="2002.74" width="44" height="84.46" fill="#5282b8" stroke="#0f1a2c" stroke-width="1.4"/>
<polyline points="864.8,1867.42 908.8,1917.99 952.8,1956.98 996.8,1987.04 1040.8,2010.2 1084.8,2028.03 1128.8,2041.76 1172.8,2052.33 1216.8,2060.45 1260.8,2066.7 1304.8,2071.5 1348.8,2075.18 1392.8,2078.01" fill="none" stroke="#dd3838" stroke-width="3.6" stroke-linejoin="round"/>
<polyline points="864.8,1751.61 908.8,1818.08 952.8,1871.47 996.8,1914.36 1040.8,1948.78 1084.8,1976.4 1128.8,1998.56 1172.8,2016.32 1216.8,2030.56 1260.8,2041.97 1304.8,2051.1 1348.8,2058.4 1392.8,2064.25" fill="none" stroke="#3d7f45" stroke-width="3.6" stroke-linejoin="round"/>
<polyline points="864.8,1607.69 908.8,1686.56 952.8,1752.59 996.8,1807.85 1040.8,1854.09 1084.8,1892.76 1128.8,1925.09 1172.8,1952.11 1216.8,1974.69 1260.8,1993.54 1304.8,2009.28 1348.8,2022.41 1392.8,2033.36" fill="none" stroke="#e8963f" stroke-width="3.6" stroke-linejoin="round"/>
<polyline points="864.8,1777.52 908.8,1817.49 952.8,1852.39 996.8,1882.84 1040.8,1909.4 1084.8,1932.58 1128.8,1952.78 1172.8,1970.39 1216.8,1985.74 1260.8,1999.11 1304.8,2010.75 1348.8,2020.89 1392.8,2029.71" fill="none" stroke="#8e8e8e" stroke-width="3.6" stroke-linejoin="round"/>
<line x1="814" y1="1582.5" x2="1444.2" y2="1582.5" stroke="#9a9a9a" stroke-width="1.3"/>
<line x1="1444.2" y1="1582.5" x2="1444.2" y2="2087.2" stroke="#9a9a9a" stroke-width="1.3"/>
<line x1="814" y1="1581.9" x2="814" y2="2087.8" stroke="#1e1e1e" stroke-width="1.3"/>
<line x1="813.4" y1="2087.2" x2="1444.8" y2="2087.2" stroke="#1e1e1e" stroke-width="1.3"/>
<line x1="809.2" y1="2087.2" x2="814" y2="2087.2" stroke="#1e1e1e" stroke-width="1.3"/>
<text x="0" y="0" font-size="22.6" fill="#111" text-anchor="start" transform="translate(791.31 2094.8) scale(1.0000 1.0600)">0</text>
<line x1="809.2" y1="2002.74" x2="814" y2="2002.74" stroke="#1e1e1e" stroke-width="1.3"/>
<text x="0" y="0" font-size="22.6" fill="#111" text-anchor="start" transform="translate(791.53 2010.34) scale(1.0000 1.0600)">1</text>
<line x1="809.2" y1="1918.28" x2="814" y2="1918.28" stroke="#1e1e1e" stroke-width="1.3"/>
<text x="0" y="0" font-size="22.6" fill="#111" text-anchor="start" transform="translate(791.57 1925.88) scale(1.0000 1.0600)">2</text>
<line x1="809.2" y1="1833.82" x2="814" y2="1833.82" stroke="#1e1e1e" stroke-width="1.3"/>
<text x="0" y="0" font-size="22.6" fill="#111" text-anchor="start" transform="translate(791.42 1841.42) scale(1.0000 1.0600)">3</text>
<line x1="809.2" y1="1749.36" x2="814" y2="1749.36" stroke="#1e1e1e" stroke-width="1.3"/>
<text x="0" y="0" font-size="22.6" fill="#111" text-anchor="start" transform="translate(791.09 1756.96) scale(1.0000 1.0600)">4</text>
<line x1="809.2" y1="1664.9" x2="814" y2="1664.9" stroke="#1e1e1e" stroke-width="1.3"/>
<text x="0" y="0" font-size="22.6" fill="#111" text-anchor="start" transform="translate(791.38 1672.5) scale(1.0000 1.0600)">5</text>
<line x1="908.8" y1="2087.2" x2="908.8" y2="2092.2" stroke="#1e1e1e" stroke-width="1.3"/>
<text x="0" y="0" font-size="22.6" fill="#111" text-anchor="start" transform="translate(896.5 2114.9) scale(0.9700 1.0600)">10</text>
<line x1="1018.8" y1="2087.2" x2="1018.8" y2="2092.2" stroke="#1e1e1e" stroke-width="1.3"/>
<text x="0" y="0" font-size="22.6" fill="#111" text-anchor="start" transform="translate(1006.78 2114.9) scale(0.9700 1.0600)">20</text>
<line x1="1128.8" y1="2087.2" x2="1128.8" y2="2092.2" stroke="#1e1e1e" stroke-width="1.3"/>
<text x="0" y="0" font-size="22.6" fill="#111" text-anchor="start" transform="translate(1116.92 2114.9) scale(0.9700 1.0600)">30</text>
<line x1="1238.8" y1="2087.2" x2="1238.8" y2="2092.2" stroke="#1e1e1e" stroke-width="1.3"/>
<text x="0" y="0" font-size="22.6" fill="#111" text-anchor="start" transform="translate(1227.08 2114.9) scale(0.9700 1.0600)">40</text>
<line x1="1348.8" y1="2087.2" x2="1348.8" y2="2092.2" stroke="#1e1e1e" stroke-width="1.3"/>
<text x="0" y="0" font-size="22.6" fill="#111" text-anchor="start" transform="translate(1336.9 2114.9) scale(0.9700 1.0600)">50</text>
<text x="0" y="0" font-size="22.6" fill="#111" text-anchor="start" transform="translate(1041.14 2143.8) scale(1.0010 1.0600)">ROH Length [cm]</text>
<text x="0" y="0" font-size="22.6" fill="#111" text-anchor="start" transform="translate(781.2 1949.59) rotate(-90) scale(1.0733 1.0000)">Number per 4 cM Bin</text>
<text x="0" y="0" font-size="37.5" fill="#111" text-anchor="start" transform="translate(899.25 1564.1) scale(0.9285 1.0000)">Wuzhuangguoliang-C4795</text>
<rect x="1187.3" y="1594.7" width="245.3" height="214.8" rx="4" ry="4" fill="#ffffff" fill-opacity="0.85" stroke="#d9d9d9" stroke-width="1.6"/>
<text x="0" y="0" font-size="22.6" fill="#111" text-anchor="start" transform="translate(1230.23 1621.3) scale(1.0066 1.0600)">Parents being...</text>
<rect x="1196" y="1640.2" width="45.2" height="15.6" fill="#5282b8" stroke="#0f1a2c" stroke-width="1.4"/>
<text x="0" y="0" font-size="22.6" fill="#111" text-anchor="start" transform="translate(1259.23 1656) scale(1.0035 1.0600)">Observed ROH</text>
<line x1="1194" y1="1682.2" x2="1243.5" y2="1682.2" stroke="#dd3838" stroke-width="4"/>
<text x="0" y="0" font-size="22.6" fill="#111" text-anchor="start" transform="translate(1259.15 1690.75) scale(1.0001 1.0600)">First Cousins</text>
<line x1="1194" y1="1716.9" x2="1243.5" y2="1716.9" stroke="#3d7f45" stroke-width="4"/>
<text x="0" y="0" font-size="22.6" fill="#111" text-anchor="start" transform="translate(1260.26 1725.5) scale(0.9867 1.0600)">Aunt/Nephew</text>
<line x1="1194" y1="1751.6" x2="1243.5" y2="1751.6" stroke="#e8963f" stroke-width="4"/>
<text x="0" y="0" font-size="22.6" fill="#111" text-anchor="start" transform="translate(1259.15 1760.25) scale(0.9994 1.0600)">Full Siblings</text>
<line x1="1194" y1="1786.3" x2="1243.5" y2="1786.3" stroke="#8e8e8e" stroke-width="4"/>
<text x="0" y="0" font-size="22.6" fill="#111" text-anchor="start" transform="translate(1259.14 1795) scale(1.0016 1.0600)">Parent/Offpsring</text>
<rect x="1535.3" y="1833.82" width="44" height="253.38" fill="#5282b8" stroke="#0f1a2c" stroke-width="1.4"/>
<rect x="1579.3" y="2002.74" width="44" height="84.46" fill="#5282b8" stroke="#0f1a2c" stroke-width="1.4"/>
<rect x="1623.3" y="2002.74" width="44" height="84.46" fill="#5282b8" stroke="#0f1a2c" stroke-width="1.4"/>
<rect x="1667.3" y="1918.28" width="44" height="168.92" fill="#5282b8" stroke="#0f1a2c" stroke-width="1.4"/>
<rect x="1711.3" y="2002.74" width="44" height="84.46" fill="#5282b8" stroke="#0f1a2c" stroke-width="1.4"/>
<polyline points="1557.3,1867.42 1601.3,1917.99 1645.3,1956.98 1689.3,1987.04 1733.3,2010.2 1777.3,2028.03 1821.3,2041.76 1865.3,2052.33 1909.3,2060.45 1953.3,2066.7 1997.3,2071.5 2041.3,2075.18 2085.3,2078.01" fill="none" stroke="#dd3838" stroke-width="3.6" stroke-linejoin="round"/>
<polyline points="1557.3,1751.61 1601.3,1818.08 1645.3,1871.47 1689.3,1914.36 1733.3,1948.78 1777.3,1976.4 1821.3,1998.56 1865.3,2016.32 1909.3,2030.56 1953.3,2041.97 1997.3,2051.1 2041.3,2058.4 2085.3,2064.25" fill="none" stroke="#3d7f45" stroke-width="3.6" stroke-linejoin="round"/>
<polyline points="1557.3,1607.69 1601.3,1686.56 1645.3,1752.59 1689.3,1807.85 1733.3,1854.09 1777.3,1892.76 1821.3,1925.09 1865.3,1952.11 1909.3,1974.69 1953.3,1993.54 1997.3,2009.28 2041.3,2022.41 2085.3,2033.36" fill="none" stroke="#e8963f" stroke-width="3.6" stroke-linejoin="round"/>
<polyline points="1557.3,1777.52 1601.3,1817.49 1645.3,1852.39 1689.3,1882.84 1733.3,1909.4 1777.3,1932.58 1821.3,1952.78 1865.3,1970.39 1909.3,1985.74 1953.3,1999.11 1997.3,2010.75 2041.3,2020.89 2085.3,2029.71" fill="none" stroke="#8e8e8e" stroke-width="3.6" stroke-linejoin="round"/>
<line x1="1506.5" y1="1582.5" x2="2136.7" y2="1582.5" stroke="#9a9a9a" stroke-width="1.3"/>
<line x1="2136.7" y1="1582.5" x2="2136.7" y2="2087.2" stroke="#9a9a9a" stroke-width="1.3"/>
<line x1="1506.5" y1="1581.9" x2="1506.5" y2="2087.8" stroke="#1e1e1e" stroke-width="1.3"/>
<line x1="1505.9" y1="2087.2" x2="2137.3" y2="2087.2" stroke="#1e1e1e" stroke-width="1.3"/>
<line x1="1501.7" y1="2087.2" x2="1506.5" y2="2087.2" stroke="#1e1e1e" stroke-width="1.3"/>
<text x="0" y="0" font-size="22.6" fill="#111" text-anchor="start" transform="translate(1483.81 2094.8) scale(1.0000 1.0600)">0</text>
<line x1="1501.7" y1="2002.74" x2="1506.5" y2="2002.74" stroke="#1e1e1e" stroke-width="1.3"/>
<text x="0" y="0" font-size="22.6" fill="#111" text-anchor="start" transform="translate(1484.03 2010.34) scale(1.0000 1.0600)">1</text>
<line x1="1501.7" y1="1918.28" x2="1506.5" y2="1918.28" stroke="#1e1e1e" stroke-width="1.3"/>
<text x="0" y="0" font-size="22.6" fill="#111" text-anchor="start" transform="translate(1484.07 1925.88) scale(1.0000 1.0600)">2</text>
<line x1="1501.7" y1="1833.82" x2="1506.5" y2="1833.82" stroke="#1e1e1e" stroke-width="1.3"/>
<text x="0" y="0" font-size="22.6" fill="#111" text-anchor="start" transform="translate(1483.92 1841.42) scale(1.0000 1.0600)">3</text>
<line x1="1501.7" y1="1749.36" x2="1506.5" y2="1749.36" stroke="#1e1e1e" stroke-width="1.3"/>
<text x="0" y="0" font-size="22.6" fill="#111" text-anchor="start" transform="translate(1483.59 1756.96) scale(1.0000 1.0600)">4</text>
<line x1="1501.7" y1="1664.9" x2="1506.5" y2="1664.9" stroke="#1e1e1e" stroke-width="1.3"/>
<text x="0" y="0" font-size="22.6" fill="#111" text-anchor="start" transform="translate(1483.88 1672.5) scale(1.0000 1.0600)">5</text>
<line x1="1601.3" y1="2087.2" x2="1601.3" y2="2092.2" stroke="#1e1e1e" stroke-width="1.3"/>
<text x="0" y="0" font-size="22.6" fill="#111" text-anchor="start" transform="translate(1589 2114.9) scale(0.9700 1.0600)">10</text>
<line x1="1711.3" y1="2087.2" x2="1711.3" y2="2092.2" stroke="#1e1e1e" stroke-width="1.3"/>
<text x="0" y="0" font-size="22.6" fill="#111" text-anchor="start" transform="translate(1699.28 2114.9) scale(0.9700 1.0600)">20</text>
<line x1="1821.3" y1="2087.2" x2="1821.3" y2="2092.2" stroke="#1e1e1e" stroke-width="1.3"/>
<text x="0" y="0" font-size="22.6" fill="#111" text-anchor="start" transform="translate(1809.42 2114.9) scale(0.9700 1.0600)">30</text>
<line x1="1931.3" y1="2087.2" x2="1931.3" y2="2092.2" stroke="#1e1e1e" stroke-width="1.3"/>
<text x="0" y="0" font-size="22.6" fill="#111" text-anchor="start" transform="translate(1919.58 2114.9) scale(0.9700 1.0600)">40</text>
<line x1="2041.3" y1="2087.2" x2="2041.3" y2="2092.2" stroke="#1e1e1e" stroke-width="1.3"/>
<text x="0" y="0" font-size="22.6" fill="#111" text-anchor="start" transform="translate(2029.4 2114.9) scale(0.9700 1.0600)">50</text>
<text x="0" y="0" font-size="22.6" fill="#111" text-anchor="start" transform="translate(1733.64 2143.8) scale(1.0010 1.0600)">ROH Length [cm]</text>
<text x="0" y="0" font-size="22.6" fill="#111" text-anchor="start" transform="translate(1473.7 1949.59) rotate(-90) scale(1.0733 1.0000)">Number per 4 cM Bin</text>
<text x="0" y="0" font-size="37.5" fill="#111" text-anchor="start" transform="translate(1634.22 1564.1) scale(0.9287 1.0000)">Shengedaliang-C325</text>
<rect x="1879.8" y="1594.7" width="245.3" height="214.8" rx="4" ry="4" fill="#ffffff" fill-opacity="0.85" stroke="#d9d9d9" stroke-width="1.6"/>
<text x="0" y="0" font-size="22.6" fill="#111" text-anchor="start" transform="translate(1922.73 1621.3) scale(1.0066 1.0600)">Parents being...</text>
<rect x="1888.5" y="1640.2" width="45.2" height="15.6" fill="#5282b8" stroke="#0f1a2c" stroke-width="1.4"/>
<text x="0" y="0" font-size="22.6" fill="#111" text-anchor="start" transform="translate(1951.73 1656) scale(1.0035 1.0600)">Observed ROH</text>
<line x1="1886.5" y1="1682.2" x2="1936" y2="1682.2" stroke="#dd3838" stroke-width="4"/>
<text x="0" y="0" font-size="22.6" fill="#111" text-anchor="start" transform="translate(1951.65 1690.75) scale(1.0001 1.0600)">First Cousins</text>
<line x1="1886.5" y1="1716.9" x2="1936" y2="1716.9" stroke="#3d7f45" stroke-width="4"/>
<text x="0" y="0" font-size="22.6" fill="#111" text-anchor="start" transform="translate(1952.76 1725.5) scale(0.9867 1.0600)">Aunt/Nephew</text>
<line x1="1886.5" y1="1751.6" x2="1936" y2="1751.6" stroke="#e8963f" stroke-width="4"/>
<text x="0" y="0" font-size="22.6" fill="#111" text-anchor="start" transform="translate(1951.65 1760.25) scale(0.9994 1.0600)">Full Siblings</text>
<line x1="1886.5" y1="1786.3" x2="1936" y2="1786.3" stroke="#8e8e8e" stroke-width="4"/>
<text x="0" y="0" font-size="22.6" fill="#111" text-anchor="start" transform="translate(1951.64 1795) scale(1.0016 1.0600)">Parent/Offpsring</text>
</svg></body></html>
